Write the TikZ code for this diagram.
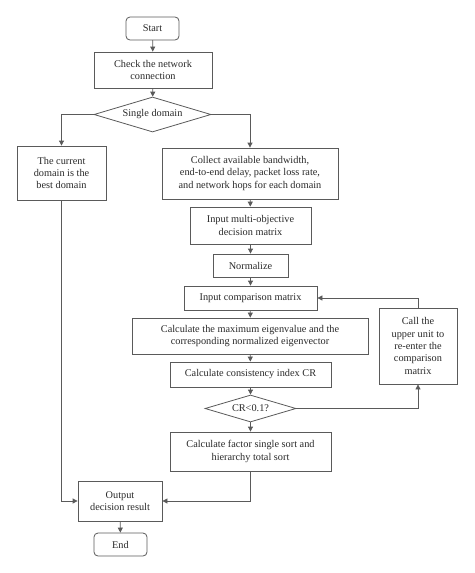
\documentclass[tikz,border=0pt]{standalone}
\usepackage{fontspec}
\setmainfont{Liberation Serif}
\usetikzlibrary{arrows.meta,shapes.geometric}
\definecolor{linec}{HTML}{5A5A5A}
\definecolor{textc}{HTML}{2A2A2A}
\begin{document}
\begin{tikzpicture}[x=1pt,y=-1pt,
  base/.style={draw=linec, line width=0.8pt, fill=white, align=center, inner sep=0pt, text=textc, font=\fontsize{10.3}{12.4}\selectfont},
  box/.style={base, rectangle},
  term/.style={base, rectangle, rounded corners=4pt, minimum width=53pt, minimum height=23pt},
  decision/.style={base, diamond, aspect=3.3},
  conn/.style={draw=linec, line width=0.8pt, -{Triangle[length=5pt,width=5pt]}},
  plain/.style={draw=linec, line width=0.8pt}
]
\useasboundingbox (0,0) rectangle (474,573);

\node[term] (start) at (152.5,28.5) {Start};
\node[box, minimum width=118pt, minimum height=36pt] (check) at (153,70) {Check the network\\connection};
\node[decision, minimum width=117pt, minimum height=35pt] (dom) at (152.5,114.5) {Single domain};
\node[box, minimum width=89pt, minimum height=54pt] (cur) at (61.5,173) {The current\\domain is the\\best domain};
\node[box, minimum width=176pt, minimum height=51pt] (coll) at (250,173.5) {Collect available bandwidth,\\end-to-end delay, packet loss rate,\\and network hops for each domain};
\node[box, minimum width=121pt, minimum height=37pt] (multi) at (250.5,225.5) {Input multi-objective\\decision matrix};
\node[box, minimum width=75pt, minimum height=23pt] (norm) at (250.5,265.5) {Normalize};
\node[box, minimum width=133pt, minimum height=24pt] (comp) at (250.5,298) {Input comparison matrix};
\node[box, minimum width=236pt, minimum height=36pt] (eig) at (250,336) {Calculate the maximum eigenvalue and the\\corresponding normalized eigenvector};
\node[box, minimum width=161pt, minimum height=25pt] (cons) at (250.5,374.5) {Calculate consistency index CR};
\node[box, minimum width=78pt, minimum height=76pt] (call) at (418,346) {Call the\\upper unit to\\re-enter the\\comparison\\matrix};
\node[decision, aspect=3.4, minimum width=91pt, minimum height=27pt] (cr) at (250.5,408.5) {CR<0.1?};
\node[box, minimum width=161pt, minimum height=39pt] (fact) at (250.5,451.5) {Calculate factor single sort and\\hierarchy total sort};
\node[box, minimum width=84pt, minimum height=40pt] (out) at (120,501) {Output\\decision result};
\node[term] (end) at (120.5,544.5) {End};

\draw[conn] (start) -- (check);
\draw[conn] (check) -- (dom);
\draw[conn] (dom.west) -| (cur.north);
\draw[conn] (dom.east) -| (coll.north);
\draw[conn] (coll) -- (multi);
\draw[conn] (multi) -- (norm);
\draw[conn] (norm) -- (comp);
\draw[conn] (comp) -- (eig);
\draw[conn] (eig) -- (cons);
\draw[conn] (cons) -- (cr);
\draw[conn] (cr) -- (fact);
\draw[conn] (cr.east) -| (call.south);
\draw[conn] (call.north) |- (comp.east);
\draw[conn] (cur.south) |- (out.west);
\draw[conn] (fact.south) |- (out.east);
\draw[conn] (out) -- (end);
\end{tikzpicture}
\end{document}
